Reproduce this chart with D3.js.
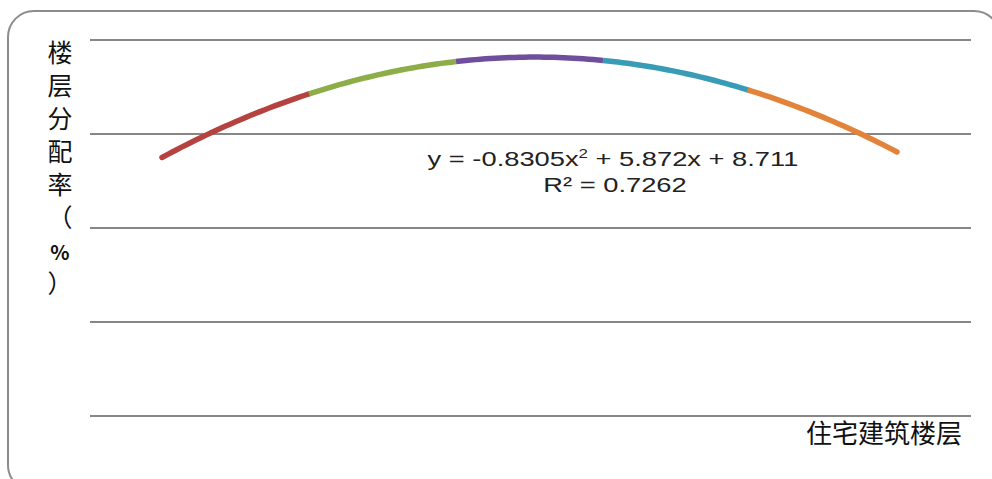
<!DOCTYPE html>
<html><head><meta charset="utf-8">
<script src="https://cdn.jsdelivr.net/npm/d3@7"></script>
<style>body{margin:0;background:#fff;}svg{display:block;}</style>
</head><body>
<svg id="c" width="992" height="479"></svg>
<script>
// Data
const floors = [1, 2, 3, 4, 5, 6];
const segmentColors = ["#B5423E", "#8CAD47", "#6F4F9B", "#389CB7", "#E3833A"];
const trendCoefficients = [-0.8305, 5.872, 8.711]; // a, b, c of y = ax^2 + bx + c
const rSquared = 0.7262;
const yTicks = [0, 5, 10, 15, 20];
const yLabelChars = ["楼", "层", "分", "配", "率", "（", "%", "）"];
const xTitle = "住宅建筑楼层";

const svg = d3.select("#c");
const x = d3.scaleLinear().domain([1, 6]).range([162, 897]);
const y = d3.scaleLinear().domain([0, 20]).range([416, 40]);

// frame
svg.append("rect").attr("x", 8).attr("y", 11).attr("width", 992).attr("height", 480)
  .attr("rx", 26).attr("ry", 26).attr("fill", "none").attr("stroke", "#8c8c8c").attr("stroke-width", 2);

// gridlines
svg.append("g").selectAll("line").data(yTicks).join("line")
  .attr("x1", 90).attr("x2", 971)
  .attr("y1", d => y(d)).attr("y2", d => y(d))
  .attr("stroke", "#878787").attr("stroke-width", 2);

// trendline segments
const [a, b, c] = trendCoefficients;
const f = t => a * t * t + b * t + c;
const line = d3.line().x(d => x(d)).y(d => y(f(d)));
const segs = d3.pairs(floors);
svg.append("g").selectAll("path").data(segs).join("path")
  .attr("d", ([s, e]) => line(d3.range(0, 31).map(i => s + (e - s) * i / 30)))
  .attr("fill", "none")
  .attr("stroke", (d, i) => segmentColors[i])
  .attr("stroke-width", 5.5)
  .attr("stroke-linecap", (d, i) => (i === 0 || i === segs.length - 1) ? "round" : "butt");

// equation (horizontally stretched as in the reference)
const eqG = svg.append("g").attr("transform", "translate(613,0) scale(1.3,1)");
const eq = eqG.append("text").attr("x", 0).attr("y", 166).attr("text-anchor", "middle")
  .attr("font-family", "Liberation Sans, Arial, sans-serif").attr("font-size", 21).attr("fill", "#222");
eq.append("tspan").text(`y = ${a}x`);
eq.append("tspan").attr("font-size", 13).attr("dy", -8).text("2");
eq.append("tspan").attr("dy", 8).text(` + ${b}x + ${c}`);
const rG = svg.append("g").attr("transform", "translate(615,0) scale(1.3,1)");
rG.append("text").attr("x", 0).attr("y", 192).attr("text-anchor", "middle")
  .attr("font-family", "Liberation Sans, Arial, sans-serif").attr("font-size", 21).attr("fill", "#222")
  .text(`R² = ${rSquared}`);

// y label
svg.append("g").selectAll("text").data(yLabelChars).join("text")
  .attr("x", 60).attr("y", (d, i) => 62 + i * 33)
  .attr("text-anchor", "middle")
  .attr("font-family", "'Noto Sans CJK SC', sans-serif")
  .attr("font-size", d => d === "%" ? 20 : 25)
  .attr("font-weight", d => d === "%" ? "bold" : "normal")
  .attr("fill", "#111")
  .text(d => d);

// x title
svg.append("text").attr("x", 962).attr("y", 443).attr("text-anchor", "end")
  .attr("font-family", "'Noto Sans CJK SC', sans-serif").attr("font-size", 26).attr("fill", "#111")
  .text(xTitle);
</script>
</body></html>
